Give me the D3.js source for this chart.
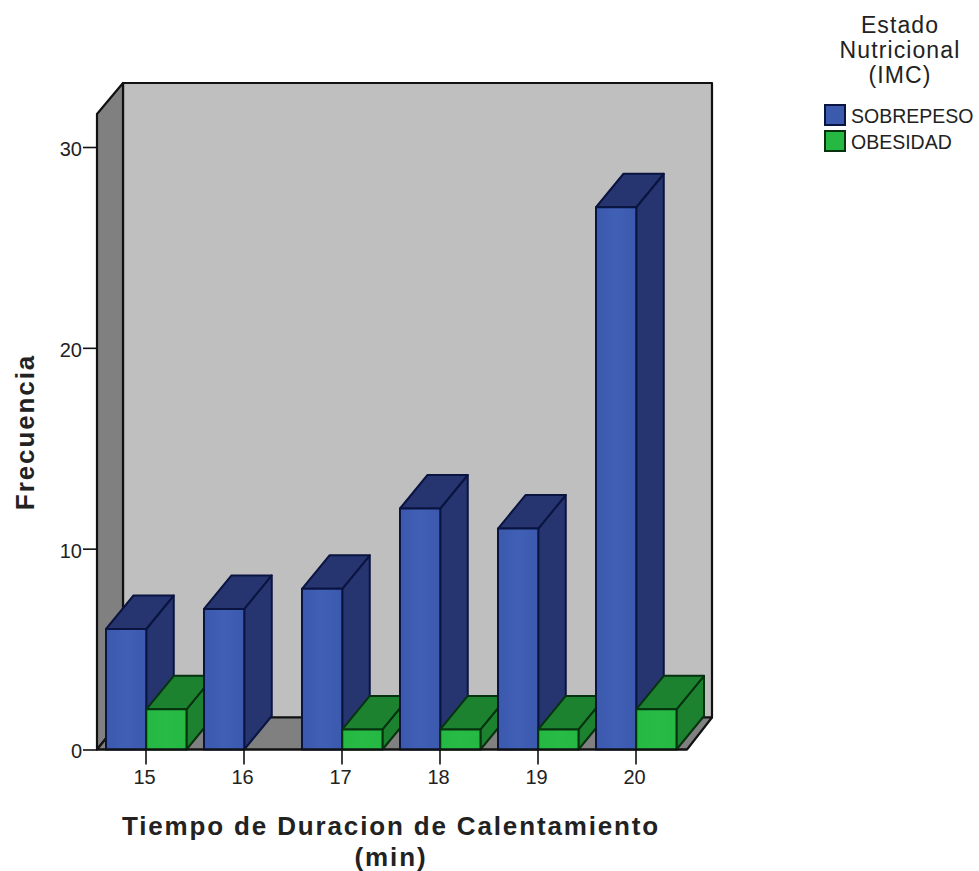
<!DOCTYPE html>
<html>
<head>
<meta charset="utf-8">
<script src="https://cdnjs.cloudflare.com/ajax/libs/d3/7.8.5/d3.min.js"></script>
<style>
html,body{margin:0;padding:0;background:#fff;}
svg{display:block;}
text{font-family:"Liberation Sans",Arial,sans-serif;fill:#222;}
</style>
</head>
<body>
<div id="chart"></div>
<script>
const categories = ["15","16","17","18","19","20"];
const seriesNames = ["SOBREPESO","OBESIDAD"];
const sobrepeso = [6,7,8,12,11,27];
const obesidad = [2,0,1,1,1,2];
const yTicks = [0,10,20,30];
const palette = {
  SOBREPESO:{front:"#3b59ad",mid:"#4060b6",shade:"#26356f",edge:"#0a1440"},
  OBESIDAD:{front:"#25b843",mid:"#27bc46",shade:"#1c8230",edge:"#06320f"}
};

const width = 979, height = 871;
const depthX = 26, depthY = 32;
const x = d3.scaleBand().domain(categories).range([97,685]);
const inner = d3.scaleBand().domain(seriesNames).range([9,89.5]);
const y = d3.scaleLinear().domain([0,30]).range([749.5,147]);
const wallTop = 114;

const svg = d3.select("#chart").append("svg").attr("width",width).attr("height",height);
const defs = svg.append("defs");
seriesNames.forEach((name,i)=>{
  const g = defs.append("linearGradient").attr("id","face"+i);
  g.append("stop").attr("offset","0").attr("stop-color",palette[name].front);
  g.append("stop").attr("offset","0.5").attr("stop-color",palette[name].mid);
  g.append("stop").attr("offset","1").attr("stop-color",palette[name].front);
});

const poly = pts => pts.map(p=>p.join(",")).join(" ");
const x0 = 97, x1 = 687, y0 = y(0);
const room = svg.append("g").attr("stroke","#111").attr("stroke-width",2.2).attr("stroke-linejoin","round");
// back wall, side wall and floor of the 3D frame
room.append("polygon").attr("fill","#bfbfbf")
  .attr("points",poly([[x0+depthX,wallTop-depthY+1],[x1+depthX-1,wallTop-depthY+1],[x1+depthX-1,y0-depthY],[x0+depthX,y0-depthY]]));
room.append("polygon").attr("fill","#808080")
  .attr("points",poly([[x0,wallTop],[x0+depthX,wallTop-depthY+1],[x0+depthX,y0-depthY],[x0,y0]]));
room.append("polygon").attr("fill","#808080")
  .attr("points",poly([[x0,y0],[x0+depthX,y0-depthY],[x1+depthX-1,y0-depthY],[x1,y0]]));

// bars painted left to right so nearer faces cover the ones behind
const bars = svg.append("g");
function drawBar(cat,name,i,value){
  if(!value) return;
  const c = palette[name];
  const l = x(cat)+inner(name), r = l+inner.bandwidth(), t = y(value), b = y(0);
  const dx = depthX+1.5, dy = depthY+1.5;
  const g = bars.append("g").attr("stroke",c.edge).attr("stroke-width",2).attr("stroke-linejoin","round");
  g.append("polygon").attr("fill",c.shade).attr("points",poly([[r,t],[r+dx,t-dy],[r+dx,b-dy],[r,b]]));
  g.append("polygon").attr("fill",c.shade).attr("points",poly([[l,t],[l+dx,t-dy],[r+dx,t-dy],[r,t]]));
  g.append("rect").attr("x",l).attr("y",t).attr("width",r-l).attr("height",b-t).attr("fill",`url(#face${i})`);
}
categories.forEach((cat,k)=>{
  drawBar(cat,"SOBREPESO",0,sobrepeso[k]);
  drawBar(cat,"OBESIDAD",1,obesidad[k]);
});

// axes
const yAxis = svg.append("g").attr("transform","translate(97,0)")
  .call(d3.axisLeft(y).tickValues(yTicks).tickSize(14).tickPadding(1));
const xAxis = svg.append("g").attr("transform","translate(0,749.5)")
  .call(d3.axisBottom(x).tickSize(15).tickPadding(5.5));
[yAxis,xAxis].forEach(a=>{
  a.select(".domain").remove();
  a.selectAll("line").attr("stroke","#111").attr("stroke-width",1.6);
  a.selectAll("text").attr("font-size",20).attr("font-family",'"Liberation Sans",Arial,sans-serif').attr("fill","#222");
});
xAxis.selectAll("text").attr("dx",-1.5);
yAxis.selectAll("text").attr("dy","0.42em");
svg.append("line").attr("x1",x0).attr("x2",x1).attr("y1",y0).attr("y2",y0).attr("stroke","#111").attr("stroke-width",2.2);

// axis titles
svg.append("text").attr("transform","translate(34,432) rotate(-90)").attr("text-anchor","middle")
  .attr("font-size",26).attr("font-weight","bold").attr("letter-spacing",1.9).attr("fill","#111").text("Frecuencia");
const xTitle = svg.append("text").attr("text-anchor","middle").attr("font-size",26).attr("font-weight","bold").attr("letter-spacing",1.85).attr("fill","#111");
xTitle.append("tspan").attr("x",391).attr("y",835).text("Tiempo de Duracion de Calentamiento");
xTitle.append("tspan").attr("x",391).attr("y",866).text("(min)");

// legend
const legendTitle = ["Estado","Nutricional","(IMC)"];
svg.append("g").selectAll("text").data(legendTitle).join("text")
  .attr("x",900).attr("y",(d,i)=>33+i*25).attr("text-anchor","middle")
  .attr("font-size",23).attr("letter-spacing",1.1).text(d=>d);
const legend = svg.append("g").selectAll("g").data(seriesNames).join("g")
  .attr("transform",(d,i)=>`translate(825,${105+i*26})`);
legend.append("rect").attr("width",20).attr("height",20)
  .attr("fill",d=>palette[d].front).attr("stroke",d=>palette[d].edge).attr("stroke-width",2);
legend.append("text").attr("x",26).attr("y",18).attr("font-size",19.5).text(d=>d);
</script>
</body>
</html>
